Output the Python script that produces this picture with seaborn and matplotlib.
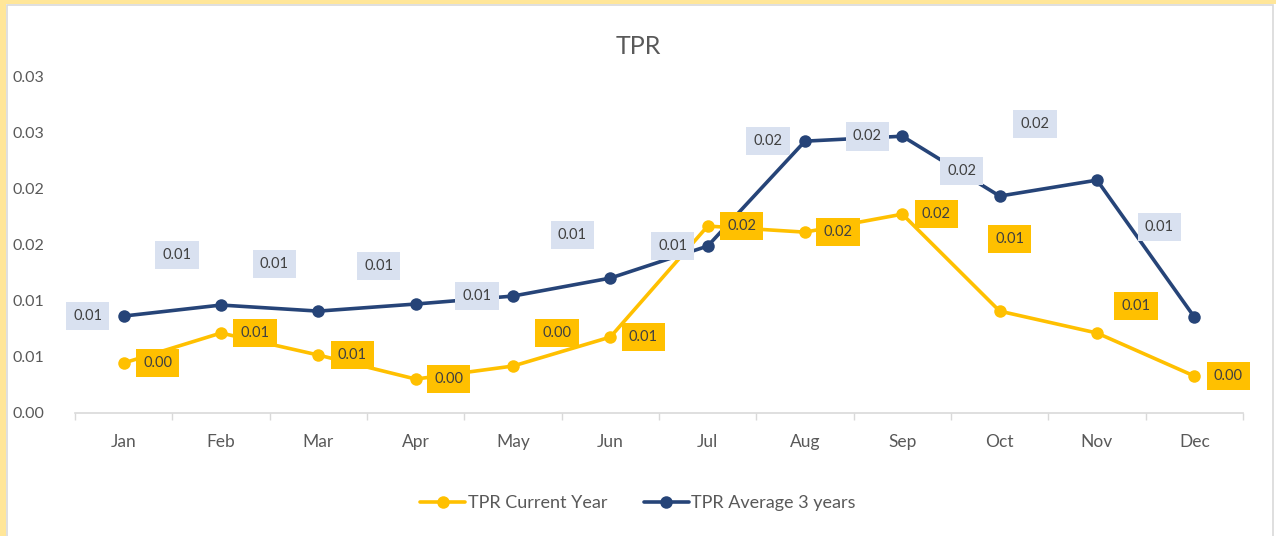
import numpy as np
import pandas as pd
import matplotlib
matplotlib.use("Agg")
import matplotlib.pyplot as plt
import seaborn as sns
from matplotlib.patches import Rectangle
from matplotlib.lines import Line2D

# ---------------- data ----------------
months = ["Jan", "Feb", "Mar", "Apr", "May", "Jun",
          "Jul", "Aug", "Sep", "Oct", "Nov", "Dec"]
current_year = [0.00445, 0.00712, 0.00516, 0.00302, 0.00418, 0.00676,
                0.01664, 0.01610, 0.01770, 0.00907, 0.00712, 0.00329]
average_3y = [0.00863, 0.00961, 0.00907, 0.00970, 0.01041, 0.01201,
              0.01486, 0.02420, 0.02464, 0.01931, 0.02073, 0.00854]
series_names = ["TPR Current Year", "TPR Average 3 years"]
y_ticks = [0.0, 0.005, 0.01, 0.015, 0.02, 0.025, 0.03]
y_tick_labels = ["0.00", "0.01", "0.01", "0.02", "0.02", "0.03", "0.03"]
title = "TPR"

# ---------------- styling / label placement (pixels) ----------------
W, H = 1276, 536
yellow = "#FFC000"
navy = "#264478"
navy_box = "#D9E1F0"
text_dark = "#404040"
tick_col = "#595959"

cur_offsets = [(34, 0), (34, 0), (34, 0), (33, 0), (44, 33), (33, 0),
               (34, 0), (33, 0), (34, 0), (10, 72), (39, 27), (34, 0)]
avg_offsets = [(-36, 0), (-44, 50), (-44, 47), (-37, 38), (-36, 0), (-38, 43),
               (-35, 0), (-37, 0), (-35, 0), (-38, 25), (-62, 56), (-35, 90)]

sns.set_theme(style="white")
plt.rcParams['font.family'] = ['Lato', 'DejaVu Sans']

fig = plt.figure(figsize=(W / 100, H / 100), dpi=100)
fig.patch.set_facecolor("white")

# frame: yellow strips + light gray border
fig.add_artist(Rectangle((0, 0), 6 / W, 1, transform=fig.transFigure,
                         facecolor="#FFE699", edgecolor="none", zorder=0))
fig.add_artist(Rectangle((0, 1 - 4 / H), 1, 4 / H, transform=fig.transFigure,
                         facecolor="#FFE699", edgecolor="none", zorder=0))
fig.add_artist(Rectangle((7 / W, -0.01), (1273 - 7) / W, 1 - 5 / H + 0.01,
                         transform=fig.transFigure, facecolor="none",
                         edgecolor="#D9D9D9", linewidth=1.2, zorder=0))

ax = fig.add_axes([75 / W, 1 - 413 / H, (1243 - 75) / W, (413 - 76) / H])
ax.set_facecolor("none")

df = pd.DataFrame({
    "pos": list(range(len(months))) * 2,
    "Month": months * 2,
    "TPR": current_year + average_3y,
    "Series": [series_names[0]] * len(months) + [series_names[1]] * len(months),
})

sns.lineplot(data=df, x="pos", y="TPR", hue="Series",
             hue_order=series_names, palette=[yellow, navy],
             marker="o", markersize=9, markeredgewidth=0, linewidth=2.6,
             sort=False, legend=False, ax=ax)

# data labels
def add_labels(values, offsets, face):
    for i, (v, off) in enumerate(zip(values, offsets)):
        ax.annotate(f"{v:.2f}", xy=(i, v), xytext=(off[0], off[1]),
                    textcoords="offset pixels", ha="center", va="center",
                    fontsize=10.5, color=text_dark, zorder=5,
                    bbox=dict(boxstyle="square,pad=0.5", facecolor=face,
                              edgecolor="none"))

add_labels(average_3y, avg_offsets, navy_box)
add_labels(current_year, cur_offsets, yellow)

# axes
ax.set_xlim(-0.5, len(months) - 0.5)
ax.set_ylim(0, 0.03)
ax.set_xticks(range(len(months)))
ax.set_xticklabels(months)
ax.set_xticks(np.arange(-0.5, len(months), 1.0), minor=True)
ax.set_yticks(y_ticks)
ax.set_yticklabels(y_tick_labels)
ax.tick_params(axis="x", which="major", length=0, pad=15, labelsize=12.5,
               labelcolor=tick_col)
ax.tick_params(axis="x", which="minor", length=5, width=1, color="#D9D9D9",
               direction="out", bottom=True)
ax.tick_params(axis="y", length=0, pad=22, labelsize=11.5, labelcolor=tick_col)
ax.set_xlabel("")
ax.set_ylabel("")
ax.grid(False)
for s in ["top", "right", "left"]:
    ax.spines[s].set_visible(False)
ax.spines["bottom"].set_color("#D9D9D9")
ax.spines["bottom"].set_linewidth(1.2)

fig.text(0.5, 1 - 46 / H, title, ha="center", va="center", fontsize=18,
         color=tick_col)

handles = [Line2D([0], [0], color=yellow, lw=2.6, marker="o", ms=9, mew=0),
           Line2D([0], [0], color=navy, lw=2.6, marker="o", ms=9, mew=0)]
fig.legend(handles, series_names, loc="center",
           bbox_to_anchor=(0.5, 1 - 503 / H), ncol=2, frameon=False,
           fontsize=13, labelcolor=tick_col, handlelength=2.5,
           handletextpad=0.15, columnspacing=2.0)

fig.savefig("out.png", dpi=100, facecolor=fig.get_facecolor())
